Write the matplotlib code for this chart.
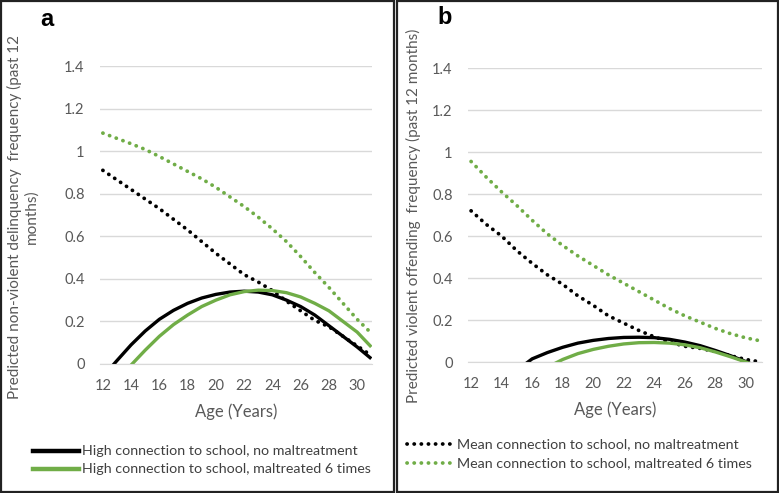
import matplotlib.pyplot as plt
from matplotlib.patches import Rectangle

plt.rcParams['font.family'] = ['Lato', 'DejaVu Sans']

age = list(range(12, 32))

# panel a - non-violent delinquency
a_high_none = [-0.06, 0.016, 0.09, 0.155, 0.21, 0.252, 0.285, 0.31, 0.327, 0.338, 0.342, 0.338, 0.325,
               0.30, 0.27, 0.23, 0.18, 0.13, 0.08, 0.025]
a_high_mal6 = [-0.16, -0.07, -0.005, 0.065, 0.13, 0.185, 0.23, 0.27, 0.30, 0.325, 0.34, 0.347, 0.345,
               0.335, 0.315, 0.285, 0.25, 0.20, 0.15, 0.08]
a_mean_none = [0.91, 0.865, 0.82, 0.775, 0.73, 0.68, 0.63, 0.575, 0.52, 0.47, 0.42, 0.385, 0.345,
               0.295, 0.25, 0.205, 0.175, 0.13, 0.085, 0.04]
a_mean_mal6 = [1.085, 1.06, 1.035, 1.008, 0.975, 0.94, 0.905, 0.87, 0.83, 0.785, 0.74, 0.69, 0.635,
               0.575, 0.505, 0.43, 0.36, 0.285, 0.21, 0.145]

# panel b - violent offending
b_high_none = [-0.30, -0.22, -0.15, -0.04, 0.015, 0.045, 0.07, 0.09, 0.103, 0.112, 0.117, 0.118, 0.116,
               0.108, 0.095, 0.078, 0.055, 0.03, 0.002, -0.03]
b_high_mal6 = [-0.25, -0.18, -0.12, -0.075, -0.045, -0.025, 0.012, 0.04, 0.06, 0.075, 0.086, 0.092, 0.093,
               0.09, 0.082, 0.068, 0.048, 0.025, 0.0, -0.03]
b_mean_none = [0.72, 0.655, 0.60, 0.53, 0.47, 0.415, 0.37, 0.315, 0.27, 0.22, 0.185, 0.15, 0.12,
               0.095, 0.075, 0.065, 0.05, 0.03, 0.012, 0.0]
b_mean_mal6 = [0.955, 0.88, 0.81, 0.745, 0.675, 0.61, 0.555, 0.505, 0.46, 0.415, 0.375, 0.335, 0.295,
               0.255, 0.22, 0.19, 0.16, 0.135, 0.115, 0.10]

xticks = list(range(12, 31, 2))
yticks = [0, 0.2, 0.4, 0.6, 0.8, 1, 1.2, 1.4]
ytick_labels = ['0', '0.2', '0.4', '0.6', '0.8', '1', '1.2', '1.4']

green = '#70AD47'
grey = '#595959'
dots = (0, (0.05, 1.85))

fig = plt.figure(figsize=(7.79, 4.93), dpi=100)
ax1 = fig.add_axes([0.1284, 0.2617, 0.3491, 0.6043])
ax2 = fig.add_axes([0.6008, 0.2657, 0.3772, 0.5963])


def draw(ax, hn, hm, mn, mm):
    ax.plot(age, mm, color=green, lw=2.7, linestyle=dots, dash_capstyle='round')
    ax.plot(age, mn, color='black', lw=2.7, linestyle=dots, dash_capstyle='round')
    ax.plot(age, hn, color='black', lw=2.4, solid_capstyle='butt')
    ax.plot(age, hm, color=green, lw=2.4, solid_capstyle='butt')
    ax.set_xlim(11.8, 31.05)
    ax.set_ylim(0, 1.4)
    ax.set_xticks(xticks)
    ax.set_yticks(yticks)
    ax.set_yticklabels(ytick_labels)
    ax.tick_params(length=0, labelsize=10.5, labelcolor=grey)
    ax.tick_params(axis='y', pad=11)
    ax.tick_params(axis='x', pad=11)
    ax.grid(axis='y', color='#D9D9D9', lw=1)
    for s in ['top', 'right', 'left']:
        ax.spines[s].set_visible(False)
    ax.spines['bottom'].set_color('#D9D9D9')
    ax.set_axisbelow(True)
    ax.set_xlabel('Age (Years)', fontsize=12, color=grey, labelpad=7)


draw(ax1, a_high_none, a_high_mal6, a_mean_none, a_mean_mal6)
draw(ax2, b_high_none, b_high_mal6, b_mean_none, b_mean_mal6)

fig.text(23 / 779, 1 - 217 / 493, 'Predicted non-violent delinquency  frequency (past 12\nmonths)',
         rotation=90, ha='center', va='center', fontsize=11, color=grey, multialignment='center')
fig.text(413 / 779, 1 - 216 / 493, 'Predicted violent offending  frequency (past 12 months)',
         rotation=90, ha='center', va='center', fontsize=11, color=grey)

fig.text(40 / 779, 1 - 20 / 493, 'a', fontsize=17, fontweight='bold', family='Liberation Sans',
         va='center', ha='left')
fig.text(437 / 779, 1 - 18 / 493, 'b', fontsize=17, fontweight='bold', family='Liberation Sans',
         va='center', ha='left')

# legends (manual, each panel shows only two entries)
fig.add_artist(plt.Line2D([33 / 779, 79 / 779], [1 - 451 / 493] * 2, color='black', lw=3.2))
fig.add_artist(plt.Line2D([33 / 779, 79 / 779], [1 - 469 / 493] * 2, color=green, lw=3.2))
fig.text(82 / 779, 1 - 451 / 493, 'High connection to school, no maltreatment', fontsize=10.3,
         color='#404040', va='center')
fig.text(82 / 779, 1 - 469 / 493, 'High connection to school, maltreated 6 times', fontsize=10.3,
         color='#404040', va='center')

fig.add_artist(plt.Line2D([407 / 779, 451 / 779], [1 - 444 / 493] * 2, color='black', lw=2.7,
                          linestyle=dots, dash_capstyle='round'))
fig.add_artist(plt.Line2D([407 / 779, 451 / 779], [1 - 463 / 493] * 2, color=green, lw=2.7,
                          linestyle=dots, dash_capstyle='round'))
fig.text(457 / 779, 1 - 444 / 493, 'Mean connection to school, no maltreatment', fontsize=10.3,
         color='#404040', va='center')
fig.text(457 / 779, 1 - 463 / 493, 'Mean connection to school, maltreated 6 times', fontsize=10.3,
         color='#404040', va='center')

# panel frames
fig.add_artist(Rectangle((1 / 779, 1 / 493), 393 / 779, 491 / 493, fill=False, ec='#222222', lw=1.6,
                         transform=fig.transFigure))
fig.add_artist(Rectangle((397 / 779, 1 / 493), 381 / 779, 491 / 493, fill=False, ec='#222222', lw=1.6,
                         transform=fig.transFigure))

fig.savefig('out.png', dpi=100)
